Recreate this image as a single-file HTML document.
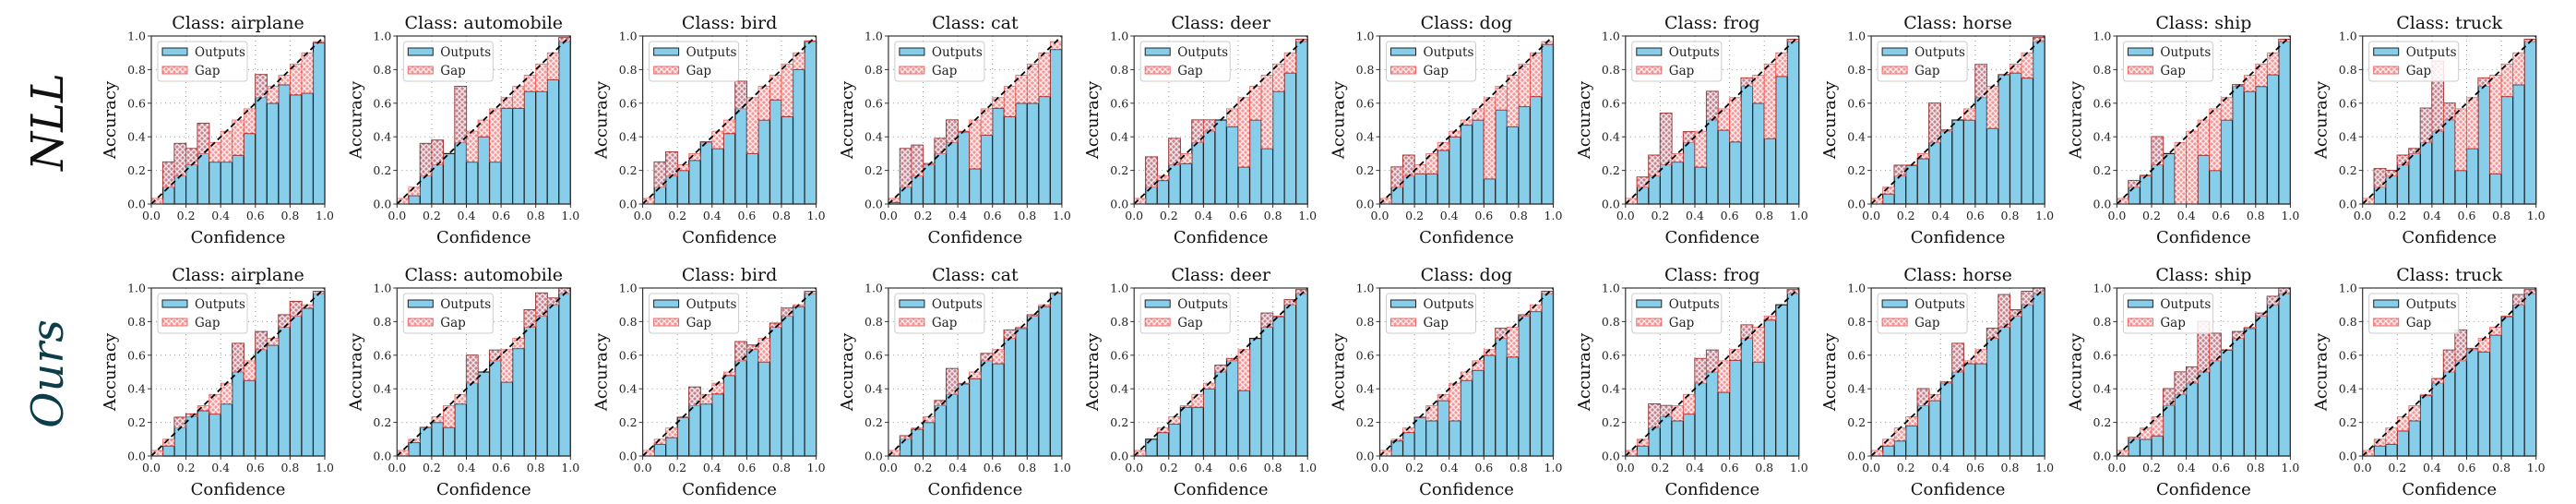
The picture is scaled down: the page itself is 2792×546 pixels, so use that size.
<!DOCTYPE html>
<html><head><meta charset="utf-8">
<style>
html,body{margin:0;padding:0;background:#fff;}
svg{display:block;font-family:"DejaVu Serif","Liberation Serif",serif;}
</style></head>
<body>
<svg id="fig" width="2792" height="546" viewBox="0 0 2792 546" xmlns="http://www.w3.org/2000/svg">
<defs>
<pattern id="hatch" patternUnits="userSpaceOnUse" width="6" height="6">
<rect width="6" height="6" fill="rgba(240,80,80,0.6)"/>
<path d="M0,0L6,6M6,0L0,6" stroke="rgba(255,255,255,0.8)" stroke-width="1.4"/>
</pattern>
</defs>
<text transform="translate(68,132) rotate(-90)" text-anchor="middle" font-size="48" font-style="italic" fill="#111">NLL</text>
<text transform="translate(68,405) rotate(-90)" text-anchor="middle" font-size="48" font-style="italic" fill="#0b3d4a">Ours</text>
<g id="panels"></g>
</svg>
<script>
const classes = ["airplane","automobile","bird","cat","deer","dog","frog","horse","ship","truck"];
const xTicks = ["0.0","0.2","0.4","0.6","0.8","1.0"];
const yTicks = ["0.0","0.2","0.4","0.6","0.8","1.0"];
const nllAirplane = [0,0.25,0.36,0.33,0.48,0.25,0.25,0.29,0.42,0.77,0.60,0.71,0.65,0.66,0.96];
const nllAutomobile = [0,0.05,0.36,0.38,0.30,0.70,0.25,0.40,0.25,0.57,0.57,0.67,0.67,0.74,0.99];
const nllBird = [0,0.25,0.31,0.20,0.26,0.37,0.33,0.42,0.73,0.30,0.50,0.62,0.52,0.80,0.97];
const nllCat = [0.01,0.33,0.35,0.24,0.39,0.50,0.43,0.21,0.41,0.57,0.52,0.60,0.60,0.64,0.92];
const nllDeer = [0,0.28,0.14,0.39,0.24,0.50,0.50,0.50,0.46,0.22,0.50,0.33,0.67,0.78,0.98];
const nllDog = [0,0.22,0.29,0.18,0.18,0.32,0.40,0.47,0.50,0.15,0.56,0.46,0.58,0.64,0.95];
const nllFrog = [0,0.16,0.29,0.54,0.25,0.43,0.22,0.67,0.44,0.37,0.75,0.60,0.39,0.76,0.98];
const nllHorse = [0,0.06,0.23,0.23,0.27,0.60,0.44,0.50,0.50,0.83,0.45,0.77,0.78,0.75,0.99];
const nllShip = [0,0.14,0.17,0.40,0.30,0,0,0.29,0.20,0.50,0.71,0.67,0.70,0.77,0.98];
const nllTruck = [0,0.21,0.20,0.29,0.33,0.57,0.85,0.60,0.20,0.33,0.75,0.18,0.64,0.71,0.98];
const oursAirplane = [0,0.06,0.23,0.25,0.27,0.25,0.31,0.67,0.45,0.74,0.66,0.84,0.92,0.88,0.98];
const oursAutomobile = [0,0.08,0.17,0.20,0.17,0.31,0.60,0.50,0.63,0.44,0.64,0.87,0.97,0.94,1.0];
const oursBird = [0,0.07,0.11,0.23,0.41,0.31,0.37,0.48,0.68,0.66,0.56,0.79,0.88,0.89,0.98];
const oursCat = [0,0.12,0.16,0.20,0.33,0.52,0.43,0.46,0.61,0.55,0.75,0.76,0.84,0.89,0.97];
const oursDeer = [0,0.10,0.14,0.19,0.29,0.29,0.40,0.54,0.58,0.39,0.70,0.85,0.83,0.93,0.99];
const oursDog = [0,0.09,0.14,0.23,0.21,0.33,0.21,0.45,0.51,0.60,0.76,0.59,0.84,0.86,0.98];
const oursFrog = [0,0.06,0.31,0.30,0.21,0.25,0.58,0.63,0.38,0.57,0.78,0.56,0.81,0.90,0.99];
const oursHorse = [0,0.06,0.09,0.18,0.40,0.33,0.44,0.67,0.55,0.55,0.76,0.96,0.87,0.98,1.0];
const oursShip = [0,0.11,0.10,0.12,0.40,0.50,0.53,0.80,0.73,0.63,0.74,0.76,0.85,0.95,1.0];
const oursTruck = [0,0.06,0.07,0.15,0.21,0.36,0.46,0.63,0.75,0.64,0.62,0.72,0.83,0.96,0.99];
const nllRows = [nllAirplane,nllAutomobile,nllBird,nllCat,nllDeer,nllDog,nllFrog,nllHorse,nllShip,nllTruck];
const oursRows = [oursAirplane,oursAutomobile,oursBird,oursCat,oursDeer,oursDog,oursFrog,oursHorse,oursShip,oursTruck];

const NS = "http://www.w3.org/2000/svg";
const root = document.getElementById("panels");
function mk(tag, attrs, parent){ const e=document.createElementNS(NS,tag); for(const k in attrs) e.setAttribute(k,attrs[k]); parent.appendChild(e); return e; }

const W=188, H=182;
function drawPanel(px, py, cls, acc, rowName){
  const g = mk("g",{},root);
  
  
  const sx = v => px + v*W;
  const sy = v => py + H - v*H;
  for(let i=1;i<5;i++){
    const v=i/5;
    const gl1 = mk("line",{x1:sx(v),x2:sx(v),y1:py,y2:py+H,stroke:"#999","stroke-width":1,"stroke-dasharray":"1,4"},g);
    
    
    const gl2 = mk("line",{x1:px,x2:px+W,y1:sy(v),y2:sy(v),stroke:"#999","stroke-width":1,"stroke-dasharray":"1,4"},g);
    
    
  }
  const n = acc.length, bw = 1/n;
  for(let i=0;i<n;i++){
    if(acc[i]<=0) continue;
    const b = mk("rect",{x:sx(i*bw),y:sy(acc[i]),width:W*bw,height:H*acc[i],fill:"#87ceeb",stroke:"#222","stroke-width":1.2},g);
    
    
  }
  for(let i=0;i<n;i++){
    const c=(i+0.5)*bw;
    const lo=Math.min(c,acc[i]), hi=Math.max(c,acc[i]);
    if(hi-lo<0.002) continue;
    const r = mk("rect",{x:sx(i*bw),y:sy(hi),width:W*bw,height:H*(hi-lo),fill:"url(#hatch)",stroke:"rgba(230,60,60,0.75)","stroke-width":0.8},g);
    
    
  }
  const d = mk("line",{x1:sx(0),y1:sy(0),x2:sx(1),y2:sy(1),stroke:"#000","stroke-width":1.8,"stroke-dasharray":"6,4"},g);
  
  
  const fr = mk("rect",{x:px,y:py,width:W,height:H,fill:"none",stroke:"#333","stroke-width":1.2},g);
  
  
  for(let i=0;i<xTicks.length;i++){
    const v=i/5;
    mk("line",{x1:sx(v),x2:sx(v),y1:py+H,y2:py+H+4,stroke:"#333","stroke-width":1},g);
    const t = mk("text",{x:sx(v),y:py+H+17,"text-anchor":"middle","font-size":12.5,fill:"#222"},g);
    t.textContent = xTicks[i];
    
    
    mk("line",{x1:px-4,x2:px,y1:sy(v),y2:sy(v),stroke:"#333","stroke-width":1},g);
    const u = mk("text",{x:px-6,y:sy(v)+4.5,"text-anchor":"end","font-size":12.5,fill:"#222"},g);
    u.textContent = yTicks[i];
    
    
  }
  const ti = mk("text",{x:px+W/2,y:py-8,"text-anchor":"middle","font-size":19,fill:"#111"},g);
  ti.textContent = "Class: "+cls;
  
  
  const xl = mk("text",{x:px+W/2,y:py+H+42,"text-anchor":"middle","font-size":18,fill:"#111"},g);
  xl.textContent = "Confidence";
  
  
  const yl = mk("text",{transform:`translate(${px-39},${py+H/2}) rotate(-90)`,"text-anchor":"middle","font-size":18,fill:"#111"},g);
  yl.textContent = "Accuracy";
  
  
  const lg = mk("g",{},g);
  
  
  mk("rect",{x:px+7,y:py+6,width:97,height:43,rx:3,fill:"rgba(255,255,255,0.85)",stroke:"#ccc","stroke-width":1},lg);
  mk("rect",{x:px+12,y:py+13,width:27,height:8,fill:"#87ceeb",stroke:"#222","stroke-width":1},lg);
  const t1 = mk("text",{x:px+47,y:py+22,"font-size":13.5,fill:"#222"},lg);
  t1.textContent="Outputs";
  
  
  mk("rect",{x:px+12,y:py+33,width:27,height:8,fill:"url(#hatch)",stroke:"rgba(230,60,60,0.75)","stroke-width":1},lg);
  const t2 = mk("text",{x:px+47,y:py+42,"font-size":13.5,fill:"#222"},lg);
  t2.textContent="Gap";
  
  
}
for(let c=0;c<10;c++){
  const px = 164 + c*266.3;
  drawPanel(px, 39, classes[c], nllRows[c], "nll");
  drawPanel(px, 312, classes[c], oursRows[c], "ours");
}
</script>
</body></html>
